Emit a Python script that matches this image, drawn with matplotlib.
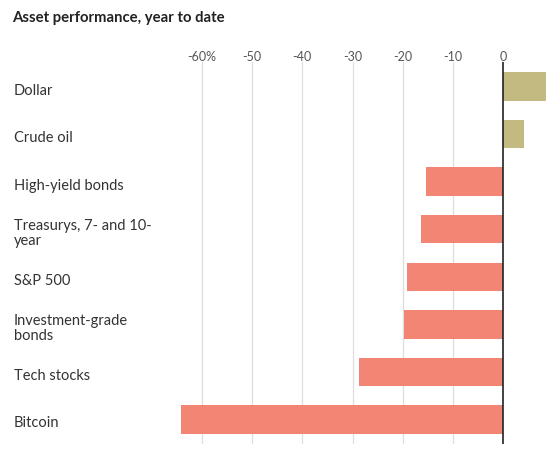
import matplotlib
matplotlib.use("Agg")
import matplotlib.pyplot as plt
import matplotlib.transforms as mtransforms

categories = ["Dollar", "Crude oil", "High-yield bonds", "Treasurys, 7- and 10-\nyear",
              "S&P 500", "Investment-grade\nbonds", "Tech stocks", "Bitcoin"]
values = [8.4, 4.2, -15.4, -16.4, -19.2, -19.8, -28.8, -64.2]
tick_values = [-60, -50, -40, -30, -20, -10, 0]
tick_labels = ["-60%", "-50", "-40", "-30", "-20", "-10", "0"]
title = "Asset performance, year to date"

POS = "#c2ba80"
NEG = "#f28574"

W, H = 557, 453
fig = plt.figure(figsize=(W / 100, H / 100), dpi=100)
left_px, right_px, top_px, bot_px = 176.6, 553.6, 62, 444
ax = fig.add_axes([left_px / W, 1 - bot_px / H, (right_px - left_px) / W, (bot_px - top_px) / H])

ypos = list(range(len(categories)))
colors = [POS if v >= 0 else NEG for v in values]
ax.barh(ypos, values, height=0.6, color=colors, zorder=2)
ax.set_xlim(-65, 10)
ax.set_ylim(len(categories) - 0.48, -0.52)

for t in tick_values:
    if t != 0:
        ax.axvline(t, color="#dddddd", lw=0.9, zorder=1)
ax.axvline(0, color="#222222", lw=1.2, zorder=3)

ax.xaxis.tick_top()
ax.set_xticks(tick_values)
ax.set_xticklabels(tick_labels, fontsize=9, color="#555555", family="Lato")
ax.tick_params(axis="x", length=0, pad=-1)
ax.set_yticks([])
for s in ax.spines.values():
    s.set_visible(False)

trans = mtransforms.blended_transform_factory(fig.transFigure, ax.transData)
trans = trans + mtransforms.ScaledTranslation(0, -4 / 100, fig.dpi_scale_trans)
for y, lab in zip(ypos, categories):
    ax.text(14 / W, y, lab, transform=trans, ha="left", va="center",
            fontsize=10.5, color="#333333", family="Lato", linespacing=1.12)

fig.text(12 / W, 1 - 18 / H, title, ha="left", va="center", fontsize=10.7,
         fontweight="bold", color="#222222", family="Lato")

fig.savefig("out.png", dpi=100)
